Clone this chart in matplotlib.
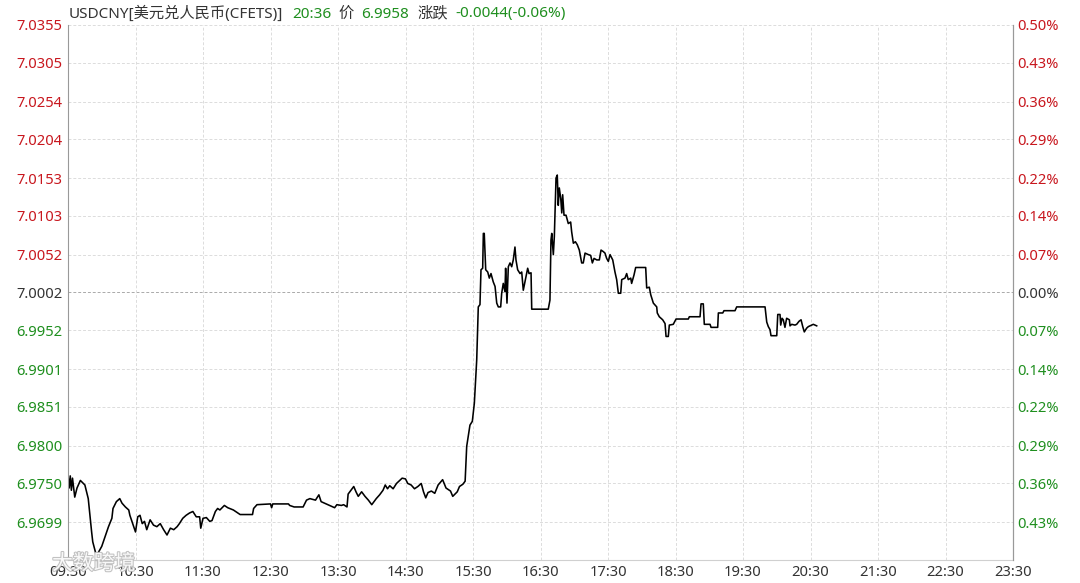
import matplotlib
matplotlib.use("Agg")
import matplotlib.pyplot as plt
import matplotlib.patheffects as pe

plt.rcParams['font.family'] = ['Noto Sans', 'Noto Sans CJK SC', 'DejaVu Sans']

# USDCNY intraday, minutes after 09:30 and price
minutes = [0, 0, 1, 2, 3, 4, 5, 6, 8, 11, 15, 18, 21, 22, 25, 27, 30, 33, 36, 39,
           40, 43, 46, 48, 51, 54, 55, 58, 60, 62, 64, 66, 68, 70, 73, 76, 79, 82, 85, 88,
           91, 94, 97, 99, 102, 105, 108, 111, 114, 117, 118, 120, 123, 126, 128, 131, 133, 135, 139, 142,
           147, 153, 164, 165, 168, 180, 181, 182, 196, 197, 201, 209, 212, 215, 220, 223, 225, 231, 237, 239,
           243, 245, 248, 249, 254, 256, 258, 261, 264, 267, 270, 274, 277, 280, 282, 284, 286, 289, 292, 297,
           300, 302, 305, 308, 311, 314, 316, 318, 320, 323, 326, 329, 333, 336, 340, 342, 346, 348, 351, 353,
           354.4, 357.3, 359.4, 361.2, 363.3, 364.7, 366.2, 367.1, 368.6, 369.2, 370.0, 371.3, 373.1, 374.5, 376.0, 378.0,
           379.6, 381.1, 382.5, 384.6, 385.5, 386.9, 388.4, 389.0, 390.2, 391.4, 392.9, 394.4, 395.8, 397.3, 398.2, 399.7,
           401.8, 403.3, 404.7, 406.2, 408.6, 409.8, 411.6, 412.2, 426.9, 428.4, 429.3, 430.0, 431.4, 432.3, 433.8, 434.9,
           435.8, 436.7, 438.0, 438.9, 439.7, 440.9, 442.7, 444.7, 446.8, 447.7, 449.2, 451.0, 452.7, 454.5, 456.6, 458.0,
           459.6, 462.5, 464.6, 466.1, 467.6, 470.0, 472.3, 473.8, 475.8, 477.3, 478.8, 480.3, 481.8, 484.2, 486.2, 487.7,
           489.2, 491.3, 492.2, 495.1, 496.6, 498.0, 500.2, 501.0, 503.1, 504.6, 513.5, 514.4, 516.7, 518.0, 520.3, 523.3,
           523.8, 525.6, 528.6, 530.7, 531.6, 533.6, 534.5, 538.0, 540.5, 551.4, 552.3, 561.8, 562.7, 564.7, 565.6, 570.7,
           571.6, 577.5, 578.1, 582.0, 583.1, 592.9, 594.4, 619.6, 621.1, 622.5, 624.0, 624.9, 630.0, 630.9, 632.9, 633.5,
           634.7, 635.8, 637.3, 638.8, 641.2, 641.8, 643.3, 646.2, 647.7, 649.8, 651.6, 653.1, 654.5, 656.6, 658.1, 661.1,
           662.5, 665.5]
price = [6.9722, 6.9761, 6.9744, 6.9760, 6.9741, 6.9757, 6.9745, 6.9732, 6.9744, 6.9754, 6.9748, 6.9730, 6.9686, 6.9673, 6.9656, 6.9659, 6.9667, 6.9680, 6.9693, 6.9704,
         6.9717, 6.9726, 6.9730, 6.9724, 6.9719, 6.9715, 6.9708, 6.9695, 6.9686, 6.9706, 6.9708, 6.9697, 6.9700, 6.9689, 6.9702, 6.9695, 6.9693, 6.9697, 6.9689, 6.9682,
         6.9691, 6.9689, 6.9693, 6.9697, 6.9704, 6.9708, 6.9711, 6.9713, 6.9706, 6.9706, 6.9691, 6.9704, 6.9705, 6.9700, 6.9701, 6.9713, 6.9717, 6.9715, 6.9721, 6.9718,
         6.9715, 6.9709, 6.9709, 6.9717, 6.9722, 6.9723, 6.9718, 6.9723, 6.9723, 6.9721, 6.9719, 6.9719, 6.9728, 6.9730, 6.9728, 6.9735, 6.9726, 6.9722, 6.9718, 6.9722,
         6.9721, 6.9722, 6.9719, 6.9736, 6.9746, 6.9739, 6.9733, 6.9739, 6.9733, 6.9728, 6.9722, 6.9730, 6.9735, 6.9741, 6.9748, 6.9743, 6.9747, 6.9743, 6.9750, 6.9757,
         6.9756, 6.9750, 6.9748, 6.9743, 6.9746, 6.9750, 6.9739, 6.9731, 6.9738, 6.9740, 6.9737, 6.9748, 6.9755, 6.9744, 6.9740, 6.9733, 6.9739, 6.9746, 6.9749, 6.9753,
         6.9799, 6.9827, 6.9832, 6.9856, 6.9913, 6.9983, 6.9986, 7.0032, 7.0034, 7.0080, 7.0080, 7.0032, 7.0029, 7.0021, 7.0027, 7.0016,
         7.0010, 6.9988, 6.9983, 6.9983, 7.0001, 7.0014, 7.0003, 7.0034, 6.9988, 7.0036, 7.0041, 7.0036, 7.0045, 7.0062, 7.0045, 7.0032,
         7.0027, 7.0029, 7.0005, 7.0016, 7.0034, 7.0027, 7.0028, 6.9980, 6.9980, 6.9992, 7.0071, 7.0080, 7.0052, 7.0076, 7.0153, 7.0157,
         7.0117, 7.0140, 7.0126, 7.0107, 7.0131, 7.0104, 7.0104, 7.0093, 7.0095, 7.0082, 7.0067, 7.0069, 7.0065, 7.0058, 7.0041, 7.0041,
         7.0054, 7.0052, 7.0051, 7.0041, 7.0047, 7.0045, 7.0045, 7.0058, 7.0056, 7.0054, 7.0047, 7.0043, 7.0052, 7.0045, 7.0029, 7.0019,
         7.0001, 7.0001, 7.0019, 7.0021, 7.0027, 7.0019, 7.0021, 7.0014, 7.0025, 7.0035, 7.0035, 7.0008, 7.0009, 6.9999, 6.9988, 6.9983,
         6.9975, 6.9970, 6.9966, 6.9961, 6.9944, 6.9944, 6.9959, 6.9960, 6.9967, 6.9967, 6.9970, 6.9970, 6.9987, 6.9987, 6.9960, 6.9960,
         6.9956, 6.9956, 6.9975, 6.9975, 6.9978, 6.9978, 6.9983, 6.9983, 6.9963, 6.9957, 6.9953, 6.9945, 6.9945, 6.9973, 6.9973, 6.9959,
         6.9968, 6.9966, 6.9956, 6.9968, 6.9966, 6.9958, 6.9960, 6.9959, 6.9960, 6.9964, 6.9966, 6.9957, 6.9950, 6.9955, 6.9957, 6.9959,
         6.9960, 6.9958]

prev_close = 7.0002
left_labels = ['7.0355', '7.0305', '7.0254', '7.0204', '7.0153', '7.0103', '7.0052', '7.0002',
               '6.9952', '6.9901', '6.9851', '6.9800', '6.9750', '6.9699']
right_labels = ['0.50%', '0.43%', '0.36%', '0.29%', '0.22%', '0.14%', '0.07%', '0.00%',
                '0.07%', '0.14%', '0.22%', '0.29%', '0.36%', '0.43%']
time_labels = ['09:30', '10:30', '11:30', '12:30', '13:30', '14:30', '15:30', '16:30',
               '17:30', '18:30', '19:30', '20:30', '21:30', '22:30', '23:30']

RED = '#c8171e'
GREEN = '#1f8f1f'
GRAY = '#333333'

fig = plt.figure(figsize=(10.8, 5.83), dpi=100)
ax = fig.add_axes([68 / 1080, 23 / 583, 945 / 1080, 535 / 583])

ax.plot(minutes, price, color='black', linewidth=1.15)

ax.set_xlim(0, 840)
ax.set_ylim(6.9649, 7.0355)

yticks = [float(s) for s in left_labels]
ax.set_yticks(yticks)
ax.set_yticklabels(left_labels)
ax.set_xticks(range(0, 841, 60))
ax.set_xticklabels(time_labels)

ax.tick_params(axis='both', length=0, labelsize=10.6)
ax.tick_params(axis='y', pad=4)
ax.tick_params(axis='x', pad=3.5, colors=GRAY)

# grid
for v in yticks:
    if v == prev_close:
        ax.axhline(v, color='#aaaaaa', linestyle=(0, (3, 2)), linewidth=0.7, zorder=0)
    else:
        ax.axhline(v, color='#dcdcdc', linestyle=(0, (3, 2)), linewidth=0.7, zorder=0)
for m in range(60, 840, 60):
    ax.axvline(m, color='#dcdcdc', linestyle=(0, (3, 2)), linewidth=0.7, zorder=0)

ax.spines['top'].set_visible(False)
ax.spines['left'].set_color('#999999')
ax.spines['right'].set_color('#999999')
ax.spines['bottom'].set_color('#d0d0d0')

ax2 = ax.twinx()
ax2.set_ylim(ax.get_ylim())
ax2.set_yticks(yticks)
ax2.set_yticklabels(right_labels)
ax2.tick_params(axis='y', length=0, labelsize=10.6, pad=3)
ax2.spines['top'].set_visible(False)
ax2.spines['right'].set_color('#999999')
ax2.spines['left'].set_visible(False)
ax2.spines['bottom'].set_visible(False)

for lab1, lab2, v in zip(ax.get_yticklabels(), ax2.get_yticklabels(), yticks):
    if v > prev_close:
        c = RED
    elif v < prev_close:
        c = GREEN
    else:
        c = GRAY
    lab1.set_color(c)
    lab2.set_color(c)

# header
hy = 1 - 14 / 583
fig.text(69 / 1080, hy, 'USDCNY[美元兑人民币(CFETS)]', color=GRAY, fontsize=11, va='center')
fig.text(292 / 1080, hy, '20:36', color=GREEN, fontsize=11, va='center')
fig.text(338 / 1080, hy, '价', color=GRAY, fontsize=11, va='center')
fig.text(361 / 1080, hy, '6.9958', color=GREEN, fontsize=11, va='center')
fig.text(417 / 1080, hy, '涨跌', color=GRAY, fontsize=11, va='center')
fig.text(455 / 1080, hy, '-0.0044(-0.06%)', color=GREEN, fontsize=11, va='center')

# watermark
fig.text(52 / 1080, 1 - 564 / 583, '大数跨境', color='white', fontsize=15, va='center',
         alpha=0.9, path_effects=[pe.withStroke(linewidth=1.5, foreground='#bbbbbb')])

fig.savefig('out.png', dpi=100)
